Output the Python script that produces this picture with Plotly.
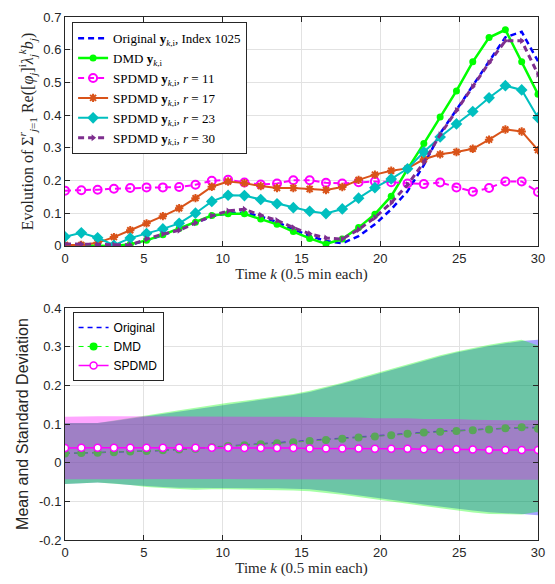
import numpy as np
import plotly.graph_objects as go
from plotly.subplots import make_subplots

# ---------------- data ----------------
k = np.linspace(0, 30, 30)

orig_top = [0.000, 0.000, 0.001, 0.002, 0.004, 0.016, 0.033, 0.052, 0.072, 0.090,
            0.100, 0.102, 0.090, 0.073, 0.051, 0.031, 0.015, 0.008, 0.030, 0.066,
            0.112, 0.167, 0.247, 0.344, 0.416, 0.489, 0.561, 0.638, 0.655, 0.565]
dmd_top = [0.002, 0.002, 0.000, 0.000, 0.005, 0.017, 0.034, 0.053, 0.072, 0.093,
           0.098, 0.098, 0.082, 0.066, 0.044, 0.023, 0.006, 0.021, 0.056, 0.097,
           0.152, 0.235, 0.313, 0.394, 0.474, 0.563, 0.637, 0.661, 0.563, 0.464]
spdmd_r11 = [0.169, 0.170, 0.172, 0.175, 0.177, 0.179, 0.179, 0.180, 0.187, 0.199,
             0.202, 0.194, 0.188, 0.191, 0.201, 0.201, 0.193, 0.191, 0.195, 0.197,
             0.195, 0.191, 0.189, 0.194, 0.179, 0.166, 0.177, 0.197, 0.197, 0.165]
spdmd_r17 = [0.003, 0.003, 0.010, 0.027, 0.048, 0.069, 0.091, 0.115, 0.146, 0.181,
             0.197, 0.192, 0.183, 0.177, 0.177, 0.174, 0.171, 0.180, 0.202, 0.218,
             0.230, 0.237, 0.265, 0.280, 0.287, 0.297, 0.325, 0.356, 0.350, 0.293]
spdmd_r23 = [0.028, 0.040, 0.025, 0.002, 0.024, 0.038, 0.052, 0.069, 0.100, 0.136,
             0.155, 0.154, 0.142, 0.129, 0.117, 0.106, 0.099, 0.113, 0.146, 0.178,
             0.205, 0.236, 0.287, 0.333, 0.373, 0.411, 0.453, 0.490, 0.477, 0.392]
spdmd_r30 = [0.006, 0.005, 0.004, 0.003, 0.003, 0.021, 0.036, 0.048, 0.071, 0.092,
             0.107, 0.112, 0.094, 0.078, 0.056, 0.037, 0.024, 0.021, 0.050, 0.087,
             0.132, 0.187, 0.255, 0.340, 0.414, 0.487, 0.560, 0.627, 0.627, 0.525]

orig_mean = [0.024, 0.025, 0.026, 0.027, 0.028, 0.030, 0.032, 0.034, 0.037, 0.040,
             0.043, 0.045, 0.048, 0.051, 0.054, 0.057, 0.060, 0.063, 0.066, 0.069,
             0.072, 0.075, 0.078, 0.081, 0.083, 0.085, 0.087, 0.089, 0.091, 0.091]
orig_std = [0.079, 0.078, 0.077, 0.081, 0.086, 0.091, 0.095, 0.099, 0.102, 0.105,
            0.108, 0.111, 0.114, 0.117, 0.121, 0.126, 0.133, 0.141, 0.150, 0.159,
            0.168, 0.177, 0.186, 0.194, 0.202, 0.209, 0.215, 0.220, 0.224, 0.227]
dmd_mean = [0.024, 0.025, 0.026, 0.027, 0.029, 0.030, 0.032, 0.034, 0.036, 0.040,
            0.043, 0.045, 0.048, 0.050, 0.053, 0.056, 0.059, 0.062, 0.065, 0.068,
            0.071, 0.075, 0.078, 0.080, 0.082, 0.084, 0.086, 0.089, 0.092, 0.088]
dmd_std = [0.079, 0.078, 0.077, 0.082, 0.087, 0.093, 0.098, 0.102, 0.106, 0.109,
           0.112, 0.115, 0.118, 0.121, 0.125, 0.130, 0.137, 0.145, 0.154, 0.163,
           0.172, 0.181, 0.190, 0.198, 0.206, 0.213, 0.219, 0.223, 0.226, 0.215]
spdmd_mean = [0.038, 0.039, 0.039, 0.039, 0.039, 0.039, 0.039, 0.039, 0.039, 0.039,
              0.039, 0.038, 0.038, 0.038, 0.038, 0.037, 0.037, 0.037, 0.037, 0.036,
              0.036, 0.036, 0.035, 0.035, 0.035, 0.034, 0.033, 0.033, 0.033, 0.033]
spdmd_std = [0.081, 0.081, 0.081, 0.081, 0.081, 0.081, 0.081, 0.081, 0.081, 0.081,
             0.081, 0.081, 0.081, 0.081, 0.081, 0.081, 0.081, 0.080, 0.080, 0.079,
             0.079, 0.079, 0.078, 0.078, 0.078, 0.077, 0.077, 0.077, 0.077, 0.077]

x_ticks = [0, 5, 10, 15, 20, 25, 30]
top_y_ticks = [0, 0.1, 0.2, 0.3, 0.4, 0.5, 0.6, 0.7]
top_y_labels = ["0", "0.1", "0.2", "0.3", "0.4", "0.5", "0.6", "0.7"]
bot_y_ticks = [-0.2, -0.1, 0, 0.1, 0.2, 0.3, 0.4]
bot_y_labels = ["-0.2", "-0.1", "0", "0.1", "0.2", "0.3", "0.4"]

# ---------------- styles ----------------
SERIF = "Liberation Serif"
SANS = "Liberation Sans"
AX = "rgb(38,38,38)"
GRID = "rgb(226,226,226)"
BLUE = "rgb(0,0,255)"
GREEN = "rgb(0,255,0)"
MAG = "rgb(255,0,255)"
ORANGE = "rgb(217,83,25)"
TEAL = "rgb(0,191,191)"
PURPLE = "rgb(126,47,142)"

fig = make_subplots(rows=2, cols=1, vertical_spacing=0.0)

# ---------------- top panel ----------------
fig.add_trace(go.Scatter(x=k, y=orig_top, mode="lines",
                         line=dict(color=BLUE, width=2.5, dash="6px,4px"),
                         name="Original <b>y</b><sub><i>k</i>,i</sub>, Index 1025",
                         legend="legend"), row=1, col=1)
fig.add_trace(go.Scatter(x=k, y=dmd_top, mode="lines+markers",
                         line=dict(color=GREEN, width=2.5),
                         marker=dict(symbol="circle", size=7, color=GREEN),
                         name="DMD <b>y</b><sub><i>k</i>,i</sub>",
                         legend="legend"), row=1, col=1)
fig.add_trace(go.Scatter(x=k, y=spdmd_r11, mode="lines+markers",
                         line=dict(color=MAG, width=2, dash="6px,4px"),
                         marker=dict(symbol="circle-open", size=8, color=MAG,
                                     line=dict(width=2, color=MAG)),
                         name="SPDMD <b>y</b><sub><i>k</i>,i</sub>, <i>r</i> = 11",
                         legend="legend"), row=1, col=1)
fig.add_trace(go.Scatter(x=k, y=spdmd_r17, mode="lines+markers",
                         line=dict(color=ORANGE, width=2),
                         marker=dict(symbol="asterisk-open", size=7, color=ORANGE,
                                     line=dict(width=2, color=ORANGE)),
                         name="SPDMD <b>y</b><sub><i>k</i>,i</sub>, <i>r</i> = 17",
                         legend="legend"), row=1, col=1)
fig.add_trace(go.Scatter(x=k, y=spdmd_r23, mode="lines+markers",
                         line=dict(color=TEAL, width=2),
                         marker=dict(symbol="diamond", size=9, color=TEAL),
                         name="SPDMD <b>y</b><sub><i>k</i>,i</sub>, <i>r</i> = 23",
                         legend="legend"), row=1, col=1)
fig.add_trace(go.Scatter(x=k, y=spdmd_r30, mode="lines+markers",
                         line=dict(color=PURPLE, width=3, dash="6px,4px"),
                         marker=dict(symbol="triangle-right", size=6, color=PURPLE),
                         name="SPDMD <b>y</b><sub><i>k</i>,i</sub>, <i>r</i> = 30",
                         legend="legend"), row=1, col=1)

# ---------------- bottom panel ----------------
kk = list(k) + list(k[::-1])


def band(mean, std):
    m = np.array(mean)
    s = np.array(std)
    up = m + s
    lo = m - s
    return list(up) + list(lo[::-1])


fig.add_trace(go.Scatter(x=kk, y=band(orig_mean, orig_std), mode="lines",
                         fill="toself", fillcolor="rgba(0,0,255,0.35)",
                         line=dict(width=0, color="rgba(0,0,255,0)"), hoverinfo="skip",
                         showlegend=False, legend="legend2"), row=2, col=1)
fig.add_trace(go.Scatter(x=k, y=orig_mean, mode="lines",
                         line=dict(color=BLUE, width=1.5, dash="5px,4px"),
                         name="Original", legend="legend2", legendrank=1), row=2, col=1)
fig.add_trace(go.Scatter(x=k, y=dmd_mean, mode="lines+markers",
                         line=dict(color=GREEN, width=1, dash="5px,4px"),
                         marker=dict(symbol="circle", size=8, color=GREEN),
                         name="DMD", legend="legend2", legendrank=2), row=2, col=1)
fig.add_trace(go.Scatter(x=kk, y=band(dmd_mean, dmd_std), mode="lines",
                         fill="toself", fillcolor="rgba(0,255,0,0.35)",
                         line=dict(width=0, color="rgba(0,255,0,0)"), hoverinfo="skip",
                         showlegend=False, legend="legend2"), row=2, col=1)
fig.add_trace(go.Scatter(x=kk, y=band(spdmd_mean, spdmd_std), mode="lines",
                         fill="toself", fillcolor="rgba(255,0,255,0.35)",
                         line=dict(width=0, color="rgba(255,0,255,0)"), hoverinfo="skip",
                         showlegend=False, legend="legend2"), row=2, col=1)
fig.add_trace(go.Scatter(x=k, y=spdmd_mean, mode="lines+markers",
                         line=dict(color=MAG, width=1.5),
                         marker=dict(symbol="circle", size=7, color="white",
                                     line=dict(width=1.5, color=MAG)),
                         name="SPDMD", legend="legend2", legendrank=3), row=2, col=1)

# ---------------- axes ----------------
axis_common = dict(showline=True, linecolor=AX, linewidth=1, mirror="ticks",
                   ticks="inside", ticklen=5, tickcolor=AX, showgrid=True,
                   gridcolor=GRID, gridwidth=1, zeroline=False,
                   tickfont=dict(family=SANS, size=13, color=AX))

fig.update_xaxes(range=[0, 30], tickvals=x_ticks, **axis_common)
fig.update_xaxes(domain=[0, 1], row=1, col=1,
                 title=dict(text="Time <i>k</i> (0.5 min each)",
                            font=dict(family=SERIF, size=15, color=AX), standoff=2))
fig.update_xaxes(domain=[0, 1], row=2, col=1,
                 title=dict(text="Time <i>k</i> (0.5 min each)",
                            font=dict(family=SERIF, size=15, color=AX), standoff=2))

fig.update_yaxes(**axis_common)
fig.update_yaxes(row=1, col=1, domain=[0.5623, 1.0], range=[0, 0.7],
                 tickvals=top_y_ticks, ticktext=top_y_labels,
                 title=dict(text="Evolution of Σ<sup><i>r</i></sup><sub><i>j</i>=1</sub> "
                                 "Re([<i>φ<sub>j</sub></i>]<sup>i</sup><i>λ<sub>j</sub><sup>k</sup>b<sub>j</sub></i>)",
                            font=dict(family=SERIF, size=16, color=AX), standoff=5))
fig.update_yaxes(row=2, col=1, domain=[0.0, 0.4434], range=[-0.2, 0.4],
                 tickvals=bot_y_ticks, ticktext=bot_y_labels,
                 title=dict(text="Mean and Standard Deviation",
                            font=dict(family=SANS, size=16, color=AX), standoff=6))

fig.update_layout(
    width=555, height=584,
    margin=dict(l=65, r=13, t=10, b=44),
    paper_bgcolor="white", plot_bgcolor="white",
    legend=dict(x=0.015, y=0.99, xanchor="left", yanchor="top",
                bgcolor="white", bordercolor=AX, borderwidth=1,
                font=dict(family=SERIF, size=13, color="black"),
                tracegroupgap=0, itemwidth=30),
    legend2=dict(x=0.016, y=0.436, xanchor="left", yanchor="top",
                 bgcolor="white", bordercolor=AX, borderwidth=1,
                 font=dict(family=SANS, size=12, color="black"),
                 tracegroupgap=0, itemwidth=30),
    showlegend=True,
)

fig.write_html("out.html")
